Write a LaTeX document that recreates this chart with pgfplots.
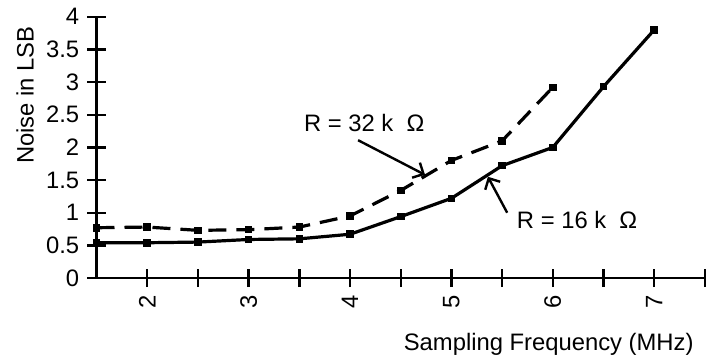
\documentclass[border=0pt]{standalone}
\usepackage{fontspec}
\setmainfont{Liberation Sans}
\usepackage{pgfplots}
\pgfplotsset{compat=1.18}
\usetikzlibrary{arrows.meta}
\begin{document}
\fontsize{11.9}{14}\selectfont
\begin{tikzpicture}
\path[use as bounding box] (-48.25pt,-41.5pt) rectangle (306.25pt,139pt);
\begin{axis}[
  at={(0,0)}, anchor=south west,
  x=50.7pt, y=32.65pt,
  xmin=1.5, xmax=7.5, ymin=0, ymax=4,
  axis lines=left,
  axis line style={-, line width=1.4pt},
  clip=false,
  tick align=center,
  major tick length=9pt,
  tick style={line width=1.2pt, black},
  xtick={2,2.5,...,7.5},
  xticklabels={2,,3,,4,,5,,6,,7,},
  ytick={0,0.5,...,4},
  yticklabels={0,0.5,1,1.5,2,2.5,3,3.5,4},
  xticklabel style={rotate=90, anchor=east},
  /pgf/number format/assume math mode=true,
]
\addplot[black, line width=1.6pt, mark=square*, mark size=1.1pt] coordinates {
 (1.5,0.54) (2,0.54) (2.5,0.55) (3,0.59) (3.5,0.60) (4,0.67) (4.5,0.94)
 (5,1.22) (5.5,1.72) (6,2.0) (6.5,2.93) (7,3.8)};
\addplot[black, line width=1.6pt, dash pattern=on 9pt off 5pt, mark=square*, mark size=1.1pt, mark options={solid}] coordinates {
 (1.5,0.77) (2,0.78) (2.5,0.73) (3,0.74) (3.5,0.78) (4,0.95) (4.5,1.34)
 (5,1.8) (5.5,2.1) (6,2.92)};
\draw[line width=1.4pt] (axis cs:1.42,0) -- (axis cs:1.5,0);
\node at (axis cs:4.14,2.37) {R = 32 k\ \ Ω};
\node at (axis cs:6.24,0.89) {R = 16 k\ \ Ω};
\draw[line width=1.2pt, -{Straight Barb[angle=90:6pt]}] (axis cs:4.08,2.11) -- (axis cs:4.74,1.58);
\draw[line width=1.2pt, -{Straight Barb[angle=90:6pt]}] (axis cs:5.55,1.0) -- (axis cs:5.36,1.55);
\node[anchor=east] at (axis cs:7.47,-1.01) {Sampling Frequency (MHz)};
\node[rotate=90] at (axis cs:0.795,2.8) {Noise in LSB};
\end{axis}
\end{tikzpicture}
\end{document}
